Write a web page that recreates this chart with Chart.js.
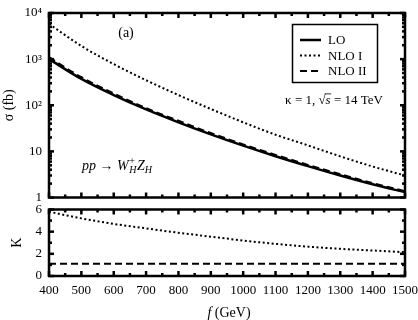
<!DOCTYPE html>
<html>
<head>
<meta charset="utf-8">
<script src="https://cdn.jsdelivr.net/npm/chart.js@4.4.0/dist/chart.umd.min.js"></script>
<style>
  body { margin: 0; background: #fff; }
  #wrap { position: relative; width: 418px; height: 320px; }
  canvas { position: absolute; left: 0; }
  #top { top: 0; }
  #bottom { top: 205px; }
</style>
</head>
<body>
<div id="wrap">
  <canvas id="top" width="418" height="205"></canvas>
  <canvas id="bottom" width="418" height="115"></canvas>
</div>
<script>
// f in GeV
const fGeV = [400, 500, 600, 700, 800, 900, 1000, 1100, 1200, 1300, 1400, 1500];
// cross sections (fb)
const sigmaLO = [1000, 372, 166, 81, 42.7, 23.4, 13.3, 7.85, 4.79, 2.99, 1.93, 1.3];
const sigmaNLO1 = [5800, 1930, 780, 349, 166, 83, 42.7, 23, 13.5, 7.8, 4.7, 3.0];
const sigmaNLO2 = [1100, 405, 180, 87, 46, 25, 14.2, 8.4, 5.1, 3.2, 2.05, 1.37];
// K factors
const kNLO1 = [5.8, 5.2, 4.7, 4.3, 3.9, 3.55, 3.2, 2.9, 2.65, 2.45, 2.3, 2.15];
const kNLO2 = [1.1, 1.1, 1.1, 1.1, 1.1, 1.1, 1.1, 1.1, 1.1, 1.1, 1.1, 1.1];

const fTicks = [400, 500, 600, 700, 800, 900, 1000, 1100, 1200, 1300, 1400, 1500];
const sigmaTicks = [1, 10, 100, 1000, 10000];
const sigmaTickLabels = ['1', '10', '10\u00b2', '10\u00b3', '10\u2074'];
const kTicks = [0, 2, 4, 6];

const SERIF = '"Liberation Serif", "DejaVu Serif", serif';

const styles = {
  LO: { borderWidth: 2.5, borderDash: [] },
  'NLO I': { borderWidth: 2, borderDash: [2, 2.5] },
  'NLO II': { borderWidth: 2, borderDash: [7, 4] }
};

const pts = ys => fGeV.map((f, i) => ({ x: f, y: ys[i] }));

const line = (label, ys) => ({
  label,
  data: pts(ys),
  borderColor: '#000',
  borderWidth: styles[label].borderWidth,
  borderDash: styles[label].borderDash,
  pointRadius: 0,
  fill: false,
  cubicInterpolationMode: 'monotone'
});

const xMinor = fTicks.slice(1).map(v => v - 50);
const sigmaMinor = [];
sigmaTicks.slice(0, -1).forEach(d => {
  for (let m = 2; m <= 9; m++) sigmaMinor.push(d * m);
});
const kMinor = [1, 3, 5];

// no extra room for half tick labels: chart area comes from layout padding only
const noPad = s => { s.paddingTop = 0; s.paddingBottom = 0; s.paddingLeft = 0; s.paddingRight = 0; };

// frame + inward ticks on all four sides
const frameTicks = {
  id: 'frameTicks',
  afterDatasetsDraw(chart, args, opts) {
    const { ctx, chartArea: a, scales: { x, y } } = chart;
    ctx.save();
    ctx.strokeStyle = '#000';
    const seg = (x1, y1, x2, y2) => {
      ctx.beginPath(); ctx.moveTo(x1, y1); ctx.lineTo(x2, y2); ctx.stroke();
    };
    const xt = (vals, len, w) => {
      ctx.lineWidth = w;
      vals.forEach(v => {
        const px = x.getPixelForValue(v);
        seg(px, a.bottom, px, a.bottom - len);
        seg(px, a.top, px, a.top + len);
      });
    };
    const yt = (vals, len, w) => {
      ctx.lineWidth = w;
      vals.forEach(v => {
        const py = y.getPixelForValue(v);
        seg(a.left, py, a.left + len, py);
        seg(a.right, py, a.right - len, py);
      });
    };
    xt(opts.xMajor, 5, 2.5);
    xt(opts.xMinor, 3, 2.5);
    yt(opts.yMajor, 5, 2.5);
    yt(opts.yMinor, 3, 2.5);
    ctx.lineWidth = 2.5;
    ctx.strokeRect(a.left, a.top, a.right - a.left, a.bottom - a.top);
    ctx.restore();
  }
};

// text with mixed italic / sub / sup pieces
function richWidth(ctx, parts) {
  return parts.reduce((w, p) => {
    ctx.font = `${p.italic ? 'italic ' : ''}${p.size}px ${SERIF}`;
    return w + (p.advance === false ? 0 : ctx.measureText(p.t).width);
  }, 0);
}

function drawRich(ctx, x, y, parts) {
  ctx.textBaseline = 'alphabetic';
  ctx.textAlign = 'left';
  parts.forEach(p => {
    ctx.font = `${p.italic ? 'italic ' : ''}${p.size}px ${SERIF}`;
    const w = ctx.measureText(p.t).width;
    ctx.fillText(p.t, x + (p.dx || 0), y + (p.dy || 0));
    if (p.over) {
      ctx.lineWidth = 0.8;
      ctx.beginPath();
      ctx.moveTo(x - 1, y - p.size * 0.78);
      ctx.lineTo(x + w + 0.5, y - p.size * 0.78);
      ctx.stroke();
    }
    if (p.advance !== false) x += w + (p.after || 0);
  });
}

const topText = {
  id: 'topText',
  afterDraw(chart) {
    const { ctx } = chart;
    ctx.save();
    ctx.fillStyle = '#000';
    ctx.strokeStyle = '#000';

    ctx.font = `14px ${SERIF}`;
    ctx.textAlign = 'center';
    ctx.textBaseline = 'alphabetic';
    ctx.fillText('(a)', 126, 37);

    // legend
    ctx.lineWidth = 1.5;
    ctx.strokeRect(292.5, 24.5, 85, 58);
    const rows = [40, 55.5, 71];
    chart.data.datasets.forEach((ds, i) => {
      ctx.lineWidth = ds.borderWidth;
      ctx.setLineDash(ds.borderDash);
      ctx.beginPath();
      ctx.moveTo(300, rows[i]);
      ctx.lineTo(321, rows[i]);
      ctx.stroke();
      ctx.setLineDash([]);
      ctx.font = `13px ${SERIF}`;
      ctx.textAlign = 'left';
      ctx.textBaseline = 'middle';
      ctx.fillText(ds.label, 328, rows[i] + 1);
    });

    // kappa, sqrt(s)
    const kap = [
      { t: '\u03ba = 1, ', size: 13 },
      { t: '\u221a', size: 13 },
      { t: 's', size: 13, italic: true, over: true },
      { t: ' = 14 TeV', size: 13 }
    ];
    drawRich(ctx, 334 - richWidth(ctx, kap) / 2, 104, kap);

    // process label
    drawRich(ctx, 82, 170, [
      { t: 'pp', size: 14, italic: true },
      { t: ' \u2192 ', size: 14 },
      { t: 'W', size: 14, italic: true, after: 0.5 },
      { t: '+', size: 10, dy: -6, advance: false },
      { t: 'H', size: 10, italic: true, dy: 3, after: 0.5 },
      { t: 'Z', size: 14, italic: true },
      { t: 'H', size: 10, italic: true, dy: 3 }
    ]);
    ctx.restore();
  }
};

const bottomText = {
  id: 'bottomText',
  afterDraw(chart) {
    const { ctx } = chart;
    ctx.save();
    ctx.fillStyle = '#000';
    const parts = [
      { t: 'f', size: 14, italic: true },
      { t: ' (GeV)', size: 14 }
    ];
    drawRich(ctx, 229 - richWidth(ctx, parts) / 2, 112, parts);
    ctx.restore();
  }
};

Chart.defaults.font.family = SERIF;
Chart.defaults.color = '#000';

new Chart(document.getElementById('top'), {
  type: 'line',
  data: {
    datasets: [
      line('LO', sigmaLO),
      line('NLO I', sigmaNLO1),
      line('NLO II', sigmaNLO2)
    ]
  },
  options: {
    responsive: false,
    animation: false,
    layout: { padding: { left: 0, right: 13, top: 13, bottom: 7.5 } },
    plugins: {
      legend: { display: false },
      tooltip: { enabled: false },
      frameTicks: { xMajor: fTicks, xMinor, yMajor: sigmaTicks, yMinor: sigmaMinor }
    },
    scales: {
      x: { type: 'linear', min: 400, max: 1500, display: false },
      y: {
        type: 'logarithmic',
        min: 1,
        max: 10000,
        grid: { display: false, drawTicks: false },
        border: { display: false },
        afterBuildTicks: s => { s.ticks = sigmaTicks.map(v => ({ value: v })); },
        afterFit: s => { s.width = 49; noPad(s); },
        ticks: {
          padding: 7,
          font: { size: 13 },
          callback: v => sigmaTickLabels[sigmaTicks.indexOf(v)]
        },
        title: { display: true, text: '\u03c3 (fb)', font: { size: 14 }, padding: { top: 1, bottom: 0 } }
      }
    }
  },
  plugins: [frameTicks, topText]
});

new Chart(document.getElementById('bottom'), {
  type: 'line',
  data: {
    datasets: [
      line('NLO I', kNLO1),
      line('NLO II', kNLO2)
    ]
  },
  options: {
    responsive: false,
    animation: false,
    layout: { padding: { left: 0, right: 13, top: 4.5, bottom: 0 } },
    plugins: {
      legend: { display: false },
      tooltip: { enabled: false },
      frameTicks: { xMajor: fTicks, xMinor, yMajor: kTicks, yMinor: kMinor }
    },
    scales: {
      x: {
        type: 'linear',
        min: 400,
        max: 1500,
        grid: { display: false, drawTicks: false },
        border: { display: false },
        afterBuildTicks: s => { s.ticks = fTicks.map(v => ({ value: v })); },
        afterFit: s => { s.height = 44; noPad(s); },
        ticks: { padding: 7, font: { size: 13 }, maxRotation: 0, autoSkip: false, callback: v => String(v) }
      },
      y: {
        min: 0,
        max: 6,
        grid: { display: false, drawTicks: false },
        border: { display: false },
        afterBuildTicks: s => { s.ticks = kTicks.map(v => ({ value: v })); },
        afterFit: s => { s.width = 49; noPad(s); },
        ticks: { padding: 7, font: { size: 13 } },
        title: { display: true, text: 'K', font: { size: 14 }, padding: { top: 9, bottom: 0 } }
      }
    }
  },
  plugins: [frameTicks, bottomText]
});
</script>
</body>
</html>
